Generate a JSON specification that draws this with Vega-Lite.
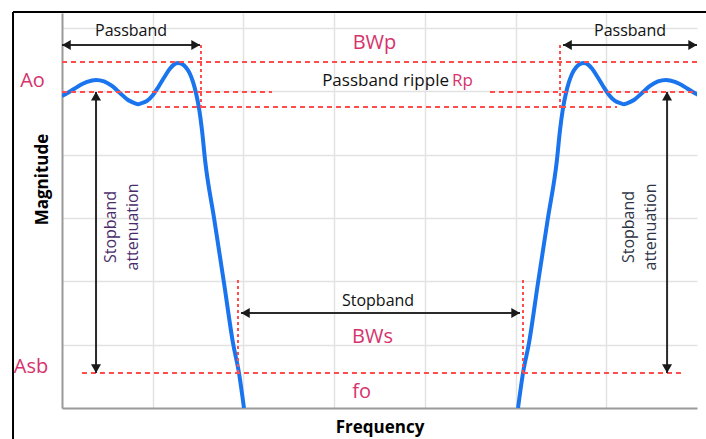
{
  "$schema": "https://vega.github.io/schema/vega-lite/v6.json",
  "width": 635,
  "height": 395,
  "autosize": {"type": "none"},
  "padding": {"left": 62, "top": 13, "right": 9, "bottom": 31},
  "background": "white",
  "datasets": {
    "curve": [
      {"side": "L", "x": 0, "y": 4.927}, {"side": "L", "x": 0.088, "y": 4.998}, {"side": "L", "x": 0.176, "y": 5.077}, {"side": "L", "x": 0.276, "y": 5.148}, {"side": "L", "x": 0.375, "y": 5.179}, {"side": "L", "x": 0.463, "y": 5.156}, {"side": "L", "x": 0.551, "y": 5.085}, {"side": "L", "x": 0.639, "y": 4.974}, {"side": "L", "x": 0.728, "y": 4.863}, {"side": "L", "x": 0.805, "y": 4.81}, {"side": "L", "x": 0.838, "y": 4.795}, {"side": "L", "x": 0.871, "y": 4.81}, {"side": "L", "x": 0.937, "y": 4.848}, {"side": "L", "x": 1.003, "y": 4.942}, {"side": "L", "x": 1.069, "y": 5.085}, {"side": "L", "x": 1.136, "y": 5.242}, {"side": "L", "x": 1.191, "y": 5.361}, {"side": "L", "x": 1.235, "y": 5.424}, {"side": "L", "x": 1.279, "y": 5.448}, {"side": "L", "x": 1.323, "y": 5.432}, {"side": "L", "x": 1.367, "y": 5.377}, {"side": "L", "x": 1.411, "y": 5.274}, {"side": "L", "x": 1.444, "y": 5.148}, {"side": "L", "x": 1.477, "y": 4.974}, {"side": "L", "x": 1.51, "y": 4.737}, {"side": "L", "x": 1.543, "y": 4.39}, {"side": "L", "x": 1.577, "y": 3.916}, {"side": "L", "x": 1.676, "y": 3.0}, {"side": "L", "x": 1.786, "y": 1.974}, {"side": "L", "x": 1.885, "y": 1.026}, {"side": "L", "x": 1.951, "y": 0.553}, {"side": "L", "x": 2.006, "y": 0},
      {"side": "R", "x": 7.033, "y": 4.927}, {"side": "R", "x": 6.945, "y": 4.998}, {"side": "R", "x": 6.857, "y": 5.077}, {"side": "R", "x": 6.757, "y": 5.148}, {"side": "R", "x": 6.658, "y": 5.179}, {"side": "R", "x": 6.57, "y": 5.156}, {"side": "R", "x": 6.482, "y": 5.085}, {"side": "R", "x": 6.394, "y": 4.974}, {"side": "R", "x": 6.305, "y": 4.863}, {"side": "R", "x": 6.228, "y": 4.81}, {"side": "R", "x": 6.195, "y": 4.795}, {"side": "R", "x": 6.162, "y": 4.81}, {"side": "R", "x": 6.096, "y": 4.848}, {"side": "R", "x": 6.03, "y": 4.942}, {"side": "R", "x": 5.964, "y": 5.085}, {"side": "R", "x": 5.897, "y": 5.242}, {"side": "R", "x": 5.842, "y": 5.361}, {"side": "R", "x": 5.798, "y": 5.424}, {"side": "R", "x": 5.754, "y": 5.448}, {"side": "R", "x": 5.71, "y": 5.432}, {"side": "R", "x": 5.666, "y": 5.377}, {"side": "R", "x": 5.622, "y": 5.274}, {"side": "R", "x": 5.589, "y": 5.148}, {"side": "R", "x": 5.556, "y": 4.974}, {"side": "R", "x": 5.523, "y": 4.737}, {"side": "R", "x": 5.49, "y": 4.39}, {"side": "R", "x": 5.456, "y": 3.916}, {"side": "R", "x": 5.357, "y": 3.0}, {"side": "R", "x": 5.247, "y": 1.974}, {"side": "R", "x": 5.148, "y": 1.026}, {"side": "R", "x": 5.082, "y": 0.553}, {"side": "R", "x": 5.027, "y": 0}
    ],
    "hdash": [
      {"x": 0, "x2": 7, "y": 5.463},
      {"x": 0, "x2": 2.315, "y": 4.99},
      {"x": 4.718, "x2": 7, "y": 4.99},
      {"x": 0.937, "x2": 6.118, "y": 4.753},
      {"x": 0.22, "x2": 6.846, "y": 0.553}
    ],
    "vdot": [
      {"x": 1.532, "y": 4.737, "y2": 5.763},
      {"x": 5.49, "y": 4.737, "y2": 5.763},
      {"x": 1.94, "y": 0.553, "y2": 2.021},
      {"x": 5.082, "y": 0.553, "y2": 2.053}
    ],
    "harrow": [
      {"x": 0, "x2": 1.521, "y": 5.732},
      {"x": 5.523, "x2": 7, "y": 5.732},
      {"x": 1.973, "x2": 5.049, "y": 1.5}
    ],
    "varrow": [
      {"x": 0.375, "y": 0.553, "y2": 4.99},
      {"x": 6.67, "y": 0.553, "y2": 4.99}
    ],
    "heads": [
      {"dir": "left", "x": 0.049, "y": 5.732},
      {"dir": "left", "x": 5.572, "y": 5.732},
      {"dir": "left", "x": 2.022, "y": 1.5},
      {"dir": "right", "x": 1.473, "y": 5.732},
      {"dir": "right", "x": 6.952, "y": 5.732},
      {"dir": "right", "x": 5.001, "y": 1.5},
      {"dir": "up", "x": 0.375, "y": 4.925},
      {"dir": "up", "x": 6.67, "y": 4.925},
      {"dir": "down", "x": 0.375, "y": 0.622},
      {"dir": "down", "x": 6.67, "y": 0.622}
    ],
    "frameV": [{"x": -0.54, "y": -0.5, "y2": 6.253}],
    "frameH": [{"x": -0.54, "x2": 7.2, "y": 6.253}],
    "tblack": [
      {"label": "Passband", "x": 0.761, "y": 5.874},
      {"label": "Passband", "x": 6.262, "y": 5.874},
      {"label": "Stopband", "x": 3.484, "y": 1.611}
    ],
    "tripple": [{"label": "Passband ripple", "x": 4.266, "y": 5.084}],
    "tRp": [{"label": "Rp", "x": 4.299, "y": 5.084}],
    "tpink": [
      {"label": "Ao", "x": -0.325, "y": 5.069},
      {"label": "Asb", "x": -0.342, "y": 0.553},
      {"label": "BWp", "x": 3.445, "y": 5.669},
      {"label": "BWs", "x": 3.423, "y": 1.026},
      {"label": "fo", "x": 3.302, "y": 0.158}
    ],
    "tattL": [{"label": "Stopband|attenuation", "x": 0.54, "y": 2.858}],
    "tattR": [{"label": "Stopband|attenuation", "x": 6.251, "y": 2.858}]
  },
  "encoding": {
    "x": {
      "field": "x", "type": "quantitative",
      "scale": {"domain": [0, 7], "nice": false, "zero": false},
      "axis": {
        "title": "Frequency", "values": [1, 2, 3, 4, 5, 6], "grid": true, "ticks": false, "labels": false,
        "domain": true, "domainColor": "#999999", "domainWidth": 2,
        "gridColor": "#e2e2e2", "gridWidth": 1.5,
        "titleFont": "Open Sans", "titleFontSize": 17, "titleFontWeight": "bold", "titleColor": "#000000",
        "titleBaseline": "alphabetic", "titleY": 24
      }
    },
    "y": {
      "field": "y", "type": "quantitative",
      "scale": {"domain": [0, 6.237], "nice": false, "zero": false},
      "axis": {
        "title": "Magnitude", "values": [1, 2, 3, 4, 5, 6], "grid": true, "ticks": false, "labels": false,
        "domain": true, "domainColor": "#999999", "domainWidth": 2,
        "gridColor": "#e2e2e2", "gridWidth": 1.5,
        "titleFont": "Open Sans", "titleFontSize": 17, "titleFontWeight": "bold", "titleColor": "#000000",
        "titleAngle": 270, "titleAlign": "center", "titleBaseline": "alphabetic", "titleX": -15, "titleY": 166
      }
    }
  },
  "layer": [
    {
      "data": {"name": "curve"},
      "mark": {"type": "line", "color": "#1a74ee", "strokeWidth": 4, "interpolate": "monotone", "clip": true},
      "encoding": {"detail": {"field": "side", "type": "nominal"}}
    },
    {
      "data": {"name": "hdash"},
      "mark": {"type": "rule", "color": "#ff4d4d", "strokeWidth": 2, "strokeDash": [5, 4]},
      "encoding": {"x2": {"field": "x2"}}
    },
    {
      "data": {"name": "vdot"},
      "mark": {"type": "rule", "color": "#ff4d4d", "strokeWidth": 2, "strokeDash": [3, 3]},
      "encoding": {"y2": {"field": "y2"}}
    },
    {
      "data": {"name": "harrow"},
      "mark": {"type": "rule", "color": "#2a2a2a", "strokeWidth": 2},
      "encoding": {"x2": {"field": "x2"}}
    },
    {
      "data": {"name": "varrow"},
      "mark": {"type": "rule", "color": "#2a2a2a", "strokeWidth": 2},
      "encoding": {"y2": {"field": "y2"}}
    },
    {
      "data": {"name": "heads"},
      "transform": [{"filter": "datum.dir === 'left'"}],
      "mark": {"type": "point", "shape": "triangle-left", "filled": true, "size": 100, "color": "#1a1a1a", "opacity": 1}
    },
    {
      "data": {"name": "heads"},
      "transform": [{"filter": "datum.dir === 'right'"}],
      "mark": {"type": "point", "shape": "triangle-right", "filled": true, "size": 100, "color": "#1a1a1a", "opacity": 1}
    },
    {
      "data": {"name": "heads"},
      "transform": [{"filter": "datum.dir === 'up'"}],
      "mark": {"type": "point", "shape": "triangle-up", "filled": true, "size": 100, "color": "#1a1a1a", "opacity": 1}
    },
    {
      "data": {"name": "heads"},
      "transform": [{"filter": "datum.dir === 'down'"}],
      "mark": {"type": "point", "shape": "triangle-down", "filled": true, "size": 100, "color": "#1a1a1a", "opacity": 1}
    },
    {
      "data": {"name": "frameV"},
      "mark": {"type": "rule", "color": "#000000", "strokeWidth": 2, "clip": false},
      "encoding": {"y2": {"field": "y2"}}
    },
    {
      "data": {"name": "frameH"},
      "mark": {"type": "rule", "color": "#000000", "strokeWidth": 2, "clip": false},
      "encoding": {"x2": {"field": "x2"}}
    },
    {
      "data": {"name": "tblack"},
      "mark": {"type": "text", "font": "Open Sans", "fontSize": 16, "color": "#111111", "align": "center", "baseline": "alphabetic"},
      "encoding": {"text": {"field": "label"}}
    },
    {
      "data": {"name": "tripple"},
      "mark": {"type": "text", "font": "Open Sans", "fontSize": 17, "color": "#111111", "align": "right", "baseline": "alphabetic"},
      "encoding": {"text": {"field": "label"}}
    },
    {
      "data": {"name": "tRp"},
      "mark": {"type": "text", "font": "Open Sans", "fontSize": 17, "color": "#d6336c", "align": "left", "baseline": "alphabetic"},
      "encoding": {"text": {"field": "label"}}
    },
    {
      "data": {"name": "tpink"},
      "mark": {"type": "text", "font": "Open Sans", "fontSize": 20, "color": "#d6336c", "align": "center", "baseline": "alphabetic", "clip": false},
      "encoding": {"text": {"field": "label"}}
    },
    {
      "data": {"name": "tattL"},
      "mark": {"type": "text", "font": "Open Sans", "fontSize": 16, "color": "#4a2d6b", "align": "center", "baseline": "middle", "angle": 270, "lineBreak": "|", "lineHeight": 22},
      "encoding": {"text": {"field": "label"}}
    },
    {
      "data": {"name": "tattR"},
      "mark": {"type": "text", "font": "Open Sans", "fontSize": 16, "color": "#2d3445", "align": "center", "baseline": "middle", "angle": 270, "lineBreak": "|", "lineHeight": 22},
      "encoding": {"text": {"field": "label"}}
    }
  ],
  "config": {
    "view": {"stroke": null},
    "font": "Open Sans"
  }
}
